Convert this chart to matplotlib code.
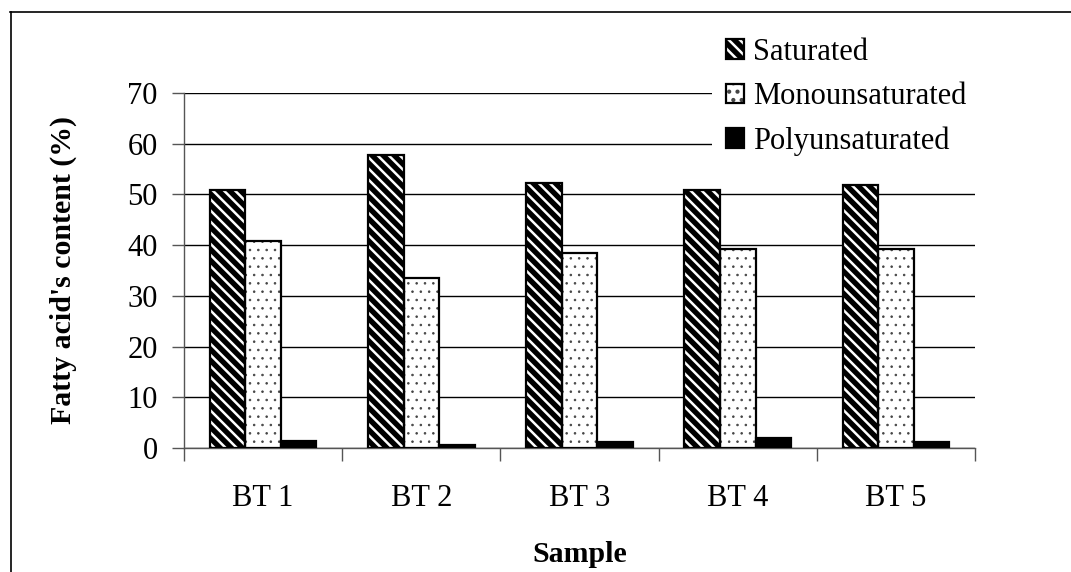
import matplotlib
matplotlib.use("Agg")
import matplotlib.pyplot as plt
import numpy as np
from matplotlib.lines import Line2D
from matplotlib.legend_handler import HandlerTuple

plt.rcParams['font.family'] = ['Liberation Serif', 'DejaVu Serif']
plt.rcParams['hatch.linewidth'] = 1.8

samples = ["BT 1", "BT 2", "BT 3", "BT 4", "BT 5"]
saturated = [50.8, 57.7, 52.3, 50.8, 51.8]
monounsaturated = [40.9, 33.5, 38.5, 39.3, 39.3]
polyunsaturated = [1.3, 0.5, 1.2, 2.0, 1.25]
series_names = ["Saturated", "Monounsaturated", "Polyunsaturated"]
y_ticks = [0, 10, 20, 30, 40, 50, 60, 70]

fig = plt.figure(figsize=(10.71, 5.72), dpi=100)
ax = fig.add_axes([0.1718, 0.2168, 0.9104 - 0.1718, 0.8374 - 0.2168])

x = np.arange(len(samples))
w = 0.225

# Saturated: black fill with white diagonal stripes, black outline
b1 = ax.bar(x - w, saturated, w, facecolor='black', edgecolor='white',
            hatch='\\\\\\', linewidth=0, zorder=3)
b1o = ax.bar(x - w, saturated, w, fill=False, edgecolor='black', linewidth=1.6, zorder=4)
# Monounsaturated: white with sparse dots
b2 = ax.bar(x, monounsaturated, w, facecolor='white', edgecolor='#444444',
            hatch='..', linewidth=0, zorder=3)
b2o = ax.bar(x, monounsaturated, w, fill=False, edgecolor='black', linewidth=1.6, zorder=4)
for p in list(b2):
    if hasattr(p, 'set_hatch_linewidth'):
        p.set_hatch_linewidth(0.6)
# Polyunsaturated: solid black
b3 = ax.bar(x + w, polyunsaturated, w, facecolor='black', edgecolor='black',
            linewidth=1.6, zorder=3)

ax.set_ylim(0, 70)
ax.set_xlim(-0.5, len(samples) - 0.5)
ax.set_yticks(y_ticks)
ax.set_yticklabels([str(v) for v in y_ticks], fontsize=22)
ax.yaxis.grid(True, color='black', linewidth=1.0, zorder=0)
ax.set_axisbelow(True)
ax.set_xticks(x)
ax.set_xticklabels(samples, fontsize=22)
ax.tick_params(axis='x', which='major', length=0, pad=26)
ax.set_xticks(np.arange(len(samples) + 1) - 0.5, minor=True)
ax.tick_params(axis='x', which='minor', length=9, width=1.0, color='#555555', direction='out')
ax.tick_params(axis='y', length=9, width=1.0, color='#555555', direction='out', pad=10)
for s in ['top', 'right']:
    ax.spines[s].set_visible(False)
for s in ['left', 'bottom']:
    ax.spines[s].set_color('#555555')
    ax.spines[s].set_linewidth(1.0)

ax.set_ylabel("Fatty acid's content (%)", fontsize=21.5, fontweight='bold', labelpad=36)
ax.set_xlabel("Sample", fontsize=21.5, fontweight='bold', labelpad=20)

leg = ax.legend([(b1, b1o), (b2, b2o), b3], series_names,
                handler_map={tuple: HandlerTuple(ndivide=1, pad=0)},
                loc='upper left', bbox_to_anchor=(712 / 1071, 1 - 24 / 572),
                bbox_transform=fig.transFigure, frameon=True,
                fontsize=22, handlelength=0.6, handleheight=0.6, handletextpad=0.3,
                labelspacing=0.5, borderpad=0.45, borderaxespad=0)
leg.get_frame().set_facecolor('white')
leg.get_frame().set_edgecolor('none')
leg.get_frame().set_alpha(1.0)
leg.set_zorder(5)

# figure border (partially visible frame)
fig.add_artist(Line2D([10 / 1071, 1.0], [1 - 12 / 572, 1 - 12 / 572], color='black', linewidth=1.2,
                      transform=fig.transFigure))
fig.add_artist(Line2D([10.5 / 1071, 10.5 / 1071], [0.0, 1 - 12 / 572], color='black', linewidth=1.2,
                      transform=fig.transFigure))

fig.savefig("out.png", dpi=100)
